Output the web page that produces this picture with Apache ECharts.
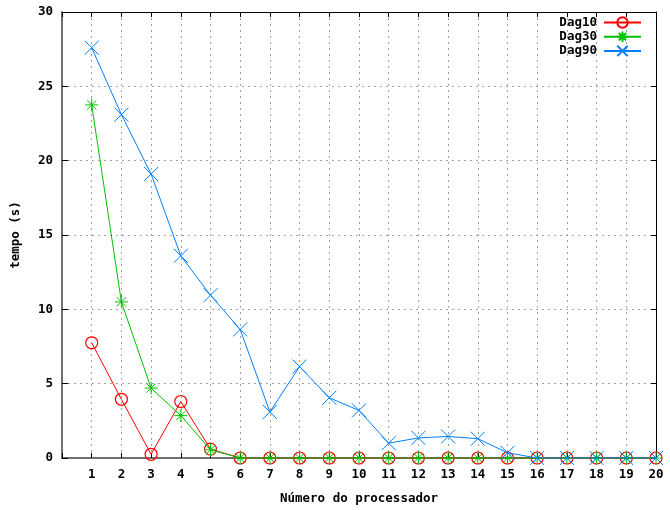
<!DOCTYPE html>
<html>
<head>
<meta charset="utf-8">
<script src="https://cdn.jsdelivr.net/npm/echarts@6/dist/echarts.min.js"></script>
<style>html,body{margin:0;padding:0;background:#fff}#c{width:670px;height:510px}</style>
</head>
<body>
<div id="c"></div>
<script>
const processors = [1,2,3,4,5,6,7,8,9,10,11,12,13,14,15,16,17,18,19,20];
const dag10 = [7.75,3.95,0.25,3.8,0.6,0,0,0,0,0,0,0,0,0,0,0,0,0,0,0];
const dag30 = [23.75,10.5,4.7,2.85,0.55,0,0,0,0,0,0,0,0,0,0,0,0,0,0,0];
const dag90 = [27.6,23.1,19.1,13.6,10.95,8.65,3.1,6.15,4.05,3.2,1.0,1.35,1.45,1.3,0.35,0,0,0,0,0];
const seriesNames = ['Dag10','Dag30','Dag90'];
const yTicks = [0,5,10,15,20,25,30];

const FONT = 'DejaVu Sans Mono';
const pairs = arr => processors.map((p,i)=>[p,arr[i]]);
const crossPath = 'path://M0 0L10 10M10 0L0 10';
const starPath = 'path://M5 0L5 10M0 5L10 5M1.5 1.5L8.5 8.5M8.5 1.5L1.5 8.5';

const chart = echarts.init(document.getElementById('c'), null, {renderer:'canvas'});
const label = {fontFamily:FONT, fontWeight:'bold', fontSize:12.5, color:'#000'};
const split = {show:true, lineStyle:{color:'#a0a0a0', type:[2,4], width:1}};
chart.setOption({
  animation:false,
  backgroundColor:'#fff',
  grid:{left:62, right:14, top:12, bottom:47, containLabel:false},
  legend:{
    orient:'vertical', right:28, top:16, padding:0, align:'right',
    itemWidth:37, itemHeight:13, itemGap:1.2,
    textStyle:Object.assign({}, label, {padding:[0,2,0,0]}),
    data:seriesNames
  },
  xAxis:[{
    type:'value', min:0, max:20, interval:1,
    name:'Número do processador', nameLocation:'middle', nameGap:34,
    nameTextStyle:label,
    axisLine:{show:true, onZero:false, lineStyle:{color:'#707070', width:2}},
    axisTick:{show:true, inside:true, length:5, lineStyle:{color:'#000'}},
    axisLabel:Object.assign({}, label, {margin:10, formatter:v=> v===0?'':String(v)}),
    splitLine:split
  },{
    type:'value', min:0, max:20, interval:1, position:'top',
    axisLine:{show:true, onZero:false, lineStyle:{color:'#000', width:1}},
    axisTick:{show:true, inside:true, length:5, lineStyle:{color:'#000'}},
    axisLabel:{show:false}, splitLine:{show:false}
  }],
  yAxis:[{
    type:'value', min:yTicks[0], max:yTicks[yTicks.length-1], interval:5,
    name:'tempo (s)', nameLocation:'middle', nameGap:40, nameRotate:90,
    nameTextStyle:label,
    axisLine:{show:true, onZero:false, lineStyle:{color:'#707070', width:2}},
    axisTick:{show:true, inside:true, length:6, lineStyle:{color:'#000'}},
    axisLabel:Object.assign({}, label, {margin:9}),
    splitLine:split
  },{
    type:'value', min:yTicks[0], max:yTicks[yTicks.length-1], interval:5, position:'right',
    axisLine:{show:true, onZero:false, lineStyle:{color:'#000', width:1}},
    axisTick:{show:true, inside:true, length:5, lineStyle:{color:'#000'}},
    axisLabel:{show:false}, splitLine:{show:false}
  }],
  series:[
    {name:'Dag10', type:'line', data:pairs(dag10), symbol:'circle', symbolSize:12, showAllSymbol:true,
      lineStyle:{color:'#ff0000', width:1},
      itemStyle:{color:'rgba(0,0,0,0)', borderColor:'#ff0000', borderWidth:1.2}, z:2},
    {name:'Dag30', type:'line', data:pairs(dag30), symbol:starPath, symbolSize:13, showAllSymbol:true,
      lineStyle:{color:'#00c000', width:1},
      itemStyle:{color:'#00c000', borderColor:'#00c000', borderWidth:1}, z:3},
    {name:'Dag90', type:'line', data:pairs(dag90), symbol:crossPath, symbolSize:14, showAllSymbol:true,
      lineStyle:{color:'#0080ff', width:1},
      itemStyle:{color:'#0080ff', borderColor:'#0080ff', borderWidth:1}, z:4}
  ]
});
</script>
</body>
</html>
